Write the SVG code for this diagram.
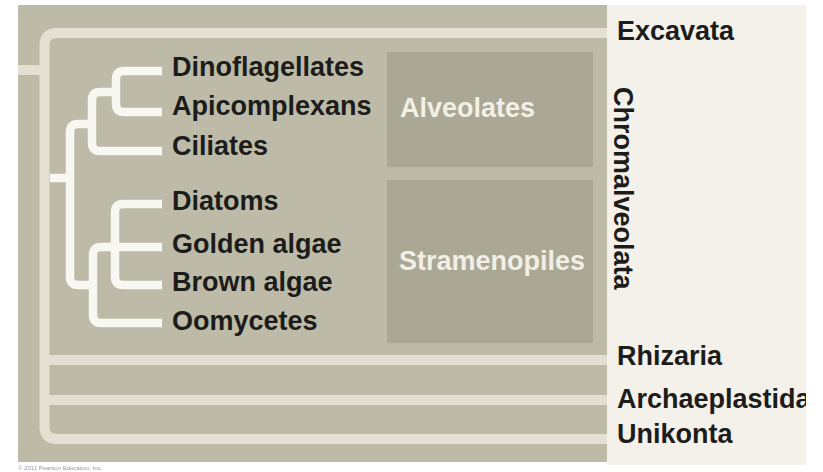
<svg xmlns="http://www.w3.org/2000/svg" width="823" height="472" viewBox="0 0 823 472">
<style>
.lbl{font-family:"Liberation Sans",Arial,sans-serif;font-weight:bold;font-size:27px;fill:#1c1c1a}
.grp{font-family:"Liberation Sans",Arial,sans-serif;font-weight:bold;font-size:27px;fill:#f1efe6}
.frame{fill:none;stroke:#e3e0d2;stroke-width:10;stroke-linejoin:round}
.tree{fill:none;stroke:#f8f7f1;stroke-width:8.5;stroke-linejoin:round;stroke-linecap:butt}
.box{fill:#aaa794}
</style>
<defs>
<clipPath id="panelClip"><rect x="607" y="5" width="199" height="460"/></clipPath>
</defs>
<rect width="823" height="472" fill="#ffffff"/>
<g id="background">
<rect x="18" y="5" width="589" height="457" fill="#bdbba8"/>
<rect x="607" y="5" width="199" height="460" fill="#f4f1eb"/>
</g>
<g id="frame">
<path class="frame" d="M607 33 H57 Q44.5 33 44.5 45.5 V426.5 Q44.5 439 57 439 H607"/>
<path class="frame" d="M44 360 H607 M44 400 H607 M18 70 H44"/>
</g>
<g id="alveolates">
<rect class="box" x="387" y="52" width="206" height="115"/>
<text class="grp" x="400" y="117">Alveolates</text>
</g>
<g id="stramenopiles">
<rect class="box" x="387" y="180" width="206" height="163"/>
<text class="grp" x="399" y="270">Stramenopiles</text>
</g>
<g id="connectors">
<path class="tree" d="M162 71 H124 Q116 71 116 79 V104 Q116 112 124 112 H162"/>
<path class="tree" d="M116 92 H100 Q92 92 92 100 V143 Q92 151 100 151 H162"/>
<path class="tree" d="M92 124 H78 Q70 124 70 132 V277 Q70 285 78 285 H93"/>
<path class="tree" d="M50 178 H70"/>
<path class="tree" d="M162 247 H101 Q93 247 93 255 V315 Q93 323 101 323 H162"/>
<path class="tree" d="M162 204 H123 Q115 204 115 212 V277 Q115 285 123 285 H162"/>
</g>
<g id="taxa">
<text class="lbl" x="172" y="76">Dinoflagellates</text>
<text class="lbl" x="172" y="115">Apicomplexans</text>
<text class="lbl" x="172" y="155">Ciliates</text>
<text class="lbl" x="172" y="210">Diatoms</text>
<text class="lbl" x="172" y="253">Golden algae</text>
<text class="lbl" x="172" y="291">Brown algae</text>
<text class="lbl" x="172" y="330">Oomycetes</text>
</g>
<g id="supergroups" clip-path="url(#panelClip)">
<text class="lbl" x="617" y="40">Excavata</text>
<text class="lbl" transform="translate(614 87) rotate(90)">Chromalveolata</text>
<text class="lbl" x="617" y="365">Rhizaria</text>
<text class="lbl" x="617" y="408">Archaeplastida</text>
<text class="lbl" x="617" y="443">Unikonta</text>
</g>
<text x="18" y="470" font-family="Liberation Sans, Arial, sans-serif" font-size="6" fill="#9a9a9a">© 2011 Pearson Education, Inc.</text>
</svg>
